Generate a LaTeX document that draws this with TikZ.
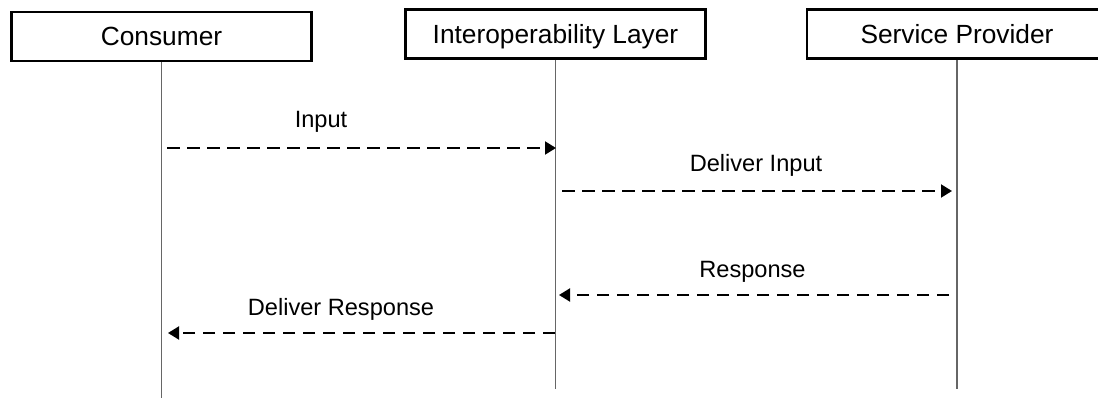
\documentclass[tikz,border=0pt]{standalone}
\usepackage{fontspec}
\setmainfont{Liberation Sans}
\usetikzlibrary{arrows.meta}
\begin{document}
\begin{tikzpicture}[x=1pt,y=-1pt,
  actor/.style={draw, line width=2.7pt, minimum width=300pt, minimum height=49pt,
    inner sep=0pt, text height=18.8pt, text depth=0pt,
    font=\fontsize{26.3}{30}\selectfont},
  lifeline/.style={line width=1.1pt, draw=black!60},
  msg/.style={line width=1.9pt, dash pattern=on 12.5pt off 7.5pt,
    -{Triangle[length=11pt,width=13pt]}},
  msglabel/.style={anchor=base, inner sep=0pt, font=\fontsize{23.6}{28}\selectfont}]
  \useasboundingbox (0,0) rectangle (1098,398);
  \clip (0,0) rectangle (1098,398);

  % participants
  \node[actor] (consumer) at (161.5,36.5) {Consumer};
  \node[actor] (layer) at (555.5,34) {Interoperability Layer};
  \node[actor] (provider) at (957,34) {Service Provider};

  % lifelines
  \coordinate (consumerEnd) at (161.5,398);
  \coordinate (layerEnd) at (555.5,389);
  \coordinate (providerEnd) at (957,389);
  \draw[lifeline] (consumer.south) -- (consumerEnd);
  \draw[lifeline] (layer.south) -- (layerEnd);
  \draw[lifeline] (provider.south) -- (providerEnd);

  % message end points
  \coordinate (inputFrom) at (167,148);
  \coordinate (inputTo) at (556,148);
  \coordinate (deliverFrom) at (562,191);
  \coordinate (deliverTo) at (952,191);
  \coordinate (responseFrom) at (949,295);
  \coordinate (responseTo) at (559,295);
  \coordinate (backFrom) at (555,333);
  \coordinate (backTo) at (168,333);

  % messages
  \draw[msg] (inputFrom) -- (inputTo);
  \draw[msg] (deliverFrom) -- (deliverTo);
  \draw[msg] (responseFrom) -- (responseTo);
  \draw[msg] (backFrom) -- (backTo);

  % message labels
  \node[msglabel] (inputLabel) at (321,128) {Input};
  \node[msglabel] (deliverLabel) at (756,171.5) {Deliver Input};
  \node[msglabel] (responseLabel) at (752.5,277) {Response};
  \node[msglabel] (backLabel) at (341,315) {Deliver Response};
\end{tikzpicture}
\end{document}
